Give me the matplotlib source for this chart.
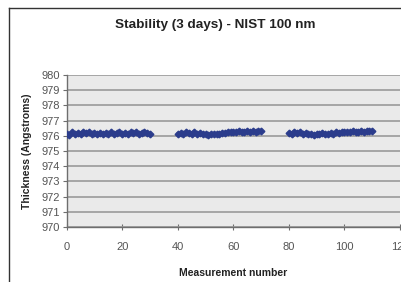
import matplotlib
matplotlib.use("Agg")
from matplotlib import pyplot as plt
from matplotlib.lines import Line2D

plt.rcParams['font.family'] = ['Liberation Sans', 'DejaVu Sans']

# measurement numbers for the three days
x_day1 = list(range(0, 31))
x_day2 = list(range(40, 71))
x_day3 = list(range(80, 111))

# thickness readings (Angstroms)
y_day1 = [976.10, 976.05, 976.25, 976.15, 976.20, 976.12, 976.22, 976.18, 976.25, 976.15,
          976.20, 976.12, 976.18, 976.10, 976.20, 976.15, 976.22, 976.12, 976.18, 976.25,
          976.15, 976.20, 976.12, 976.22, 976.18, 976.25, 976.15, 976.20, 976.22, 976.18,
          976.10]
y_day2 = [976.15, 976.20, 976.12, 976.22, 976.18, 976.15, 976.22, 976.12, 976.18, 976.10,
          976.15, 976.08, 976.12, 976.10, 976.15, 976.12, 976.20, 976.18, 976.25, 976.22,
          976.28, 976.25, 976.30, 976.22, 976.28, 976.32, 976.25, 976.30, 976.28, 976.32,
          976.30]
y_day3 = [976.20, 976.15, 976.25, 976.18, 976.22, 976.12, 976.18, 976.10, 976.15, 976.08,
          976.12, 976.10, 976.18, 976.12, 976.15, 976.20, 976.15, 976.22, 976.18, 976.25,
          976.22, 976.28, 976.25, 976.30, 976.25, 976.28, 976.32, 976.28, 976.30, 976.32,
          976.30]

xticks = [0, 20, 40, 60, 80, 100, 120]
yticks = list(range(970, 981))

W, H = 402, 282
fig = plt.figure(figsize=(W / 100, H / 100), dpi=100)
ax = fig.add_axes([66.7 / W, 1 - 227 / H, (400 - 66.7) / W, 152 / H])
ax.set_facecolor('#EAEAEA')

blue = '#2B3C8C'
for xs, ys in [(x_day1, y_day1), (x_day2, y_day2), (x_day3, y_day3)]:
    ax.plot(xs, ys, color=blue, lw=1.8, marker='D', ms=3.4, mec=blue, mfc=blue, zorder=3)

ax.set_xlim(0, 120)
ax.set_ylim(970, 980)
ax.set_xticks(xticks)
ax.set_yticks(yticks)
ax.grid(axis='y', color='#9A9A9A', lw=1.2)
ax.set_axisbelow(True)
for s in ['top', 'right']:
    ax.spines[s].set_visible(False)
for s in ['left', 'bottom']:
    ax.spines[s].set_color('#6E6E6E')
    ax.spines[s].set_linewidth(1.0)
ax.tick_params(axis='y', direction='out', length=3, width=0.8, color='#6E6E6E',
               labelsize=8, labelcolor='#555555', pad=2)
ax.tick_params(axis='x', direction='inout', length=5, width=0.8, color='#6E6E6E',
               labelsize=8, labelcolor='#555555', pad=8)

fig.text(215 / W, 1 - 25 / H, 'Stability (3 days) - NIST 100 nm', ha='center', va='center',
         fontsize=9.7, fontweight='bold', color='#222222')
fig.text(233 / W, 1 - 273 / H, 'Measurement number', ha='center', va='center',
         fontsize=7.5, fontweight='bold', color='#222222')
fig.text(27 / W, 1 - 151 / H, 'Thickness (Angstroms)', ha='center', va='center',
         rotation=90, fontsize=7.5, fontweight='bold', color='#222222')

# outer chart frame (left and top edges visible)
fig.add_artist(Line2D([8.5 / W, 8.5 / W], [0, 1 - 7.5 / H], color='#333333', lw=1.0))
fig.add_artist(Line2D([8.5 / W, 1], [1 - 7.5 / H, 1 - 7.5 / H], color='#333333', lw=1.0))

fig.savefig('out.png', dpi=100)
